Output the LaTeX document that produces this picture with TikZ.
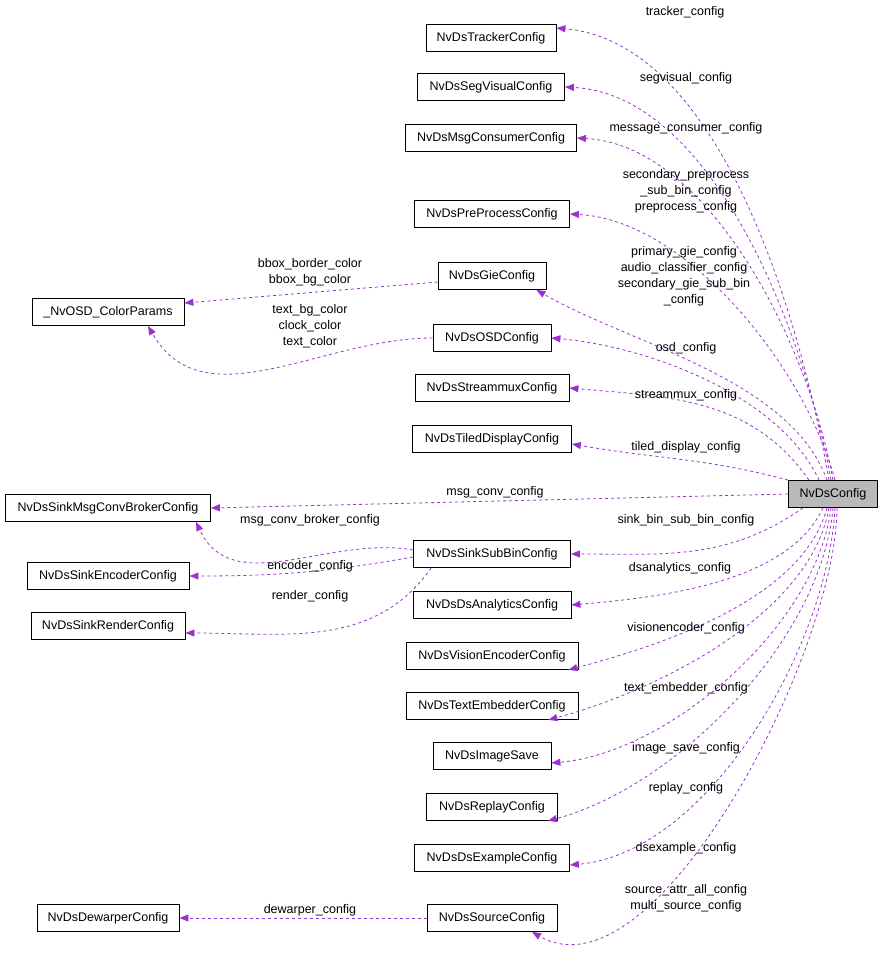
\documentclass[tikz,border=0pt]{standalone}
\usepackage{fontspec}
\setmainfont{Liberation Sans}
\usetikzlibrary{arrows.meta}
\definecolor{depcol}{HTML}{9A32CD}
\begin{document}
\begin{tikzpicture}[x=1pt,y=1pt,
                    font=\fontsize{12.5}{16}\selectfont,
                    ]
    \tikzstyle{cls}=[draw=black,fill=white,inner sep=0pt,minimum height=27pt,line width=0.8pt]
    \tikzstyle{main}=[cls, fill=gray!55];
    \tikzstyle{dep}=[draw=depcol,dashed,line width=0.8pt,-{Triangle[length=9pt,width=7pt]}];
    \tikzstyle{lbl}=[align=center,inner sep=0pt];

    \useasboundingbox (0,0) rectangle (883,-964);

    % classes
    \node[main, minimum width=89pt] (cfg) at (833,-494) {NvDsConfig};
    \node[cls, minimum width=130pt] (trk) at (491,-38) {NvDsTrackerConfig};
    \node[cls, minimum width=147pt] (seg) at (491,-87) {NvDsSegVisualConfig};
    \node[cls, minimum width=171pt] (msgc) at (491,-138) {NvDsMsgConsumerConfig};
    \node[cls, minimum width=155pt] (pre) at (492,-214) {NvDsPreProcessConfig};
    \node[cls, minimum width=108pt] (gie) at (492,-276) {NvDsGieConfig};
    \node[cls, minimum width=152pt] (col) at (108,-312) {\_NvOSD\_ColorParams};
    \node[cls, minimum width=118pt] (osd) at (492,-338) {NvDsOSDConfig};
    \node[cls, minimum width=154pt] (mux) at (492,-388) {NvDsStreammuxConfig};
    \node[cls, minimum width=159pt] (tile) at (492,-439) {NvDsTiledDisplayConfig};
    \node[cls, minimum width=205pt] (smsg) at (108,-508) {NvDsSinkMsgConvBrokerConfig};
    \node[cls, minimum width=157pt] (sink) at (492,-554) {NvDsSinkSubBinConfig};
    \node[cls, minimum width=162pt] (enc) at (108,-576) {NvDsSinkEncoderConfig};
    \node[cls, minimum width=154pt] (ren) at (108,-626) {NvDsSinkRenderConfig};
    \node[cls, minimum width=158pt] (ana) at (492,-605) {NvDsDsAnalyticsConfig};
    \node[cls, minimum width=172pt] (vis) at (492,-656) {NvDsVisionEncoderConfig};
    \node[cls, minimum width=172pt] (txt) at (492,-706) {NvDsTextEmbedderConfig};
    \node[cls, minimum width=118pt] (img) at (492,-756) {NvDsImageSave};
    \node[cls, minimum width=131pt] (rep) at (492,-807) {NvDsReplayConfig};
    \node[cls, minimum width=155pt] (exa) at (492,-858) {NvDsDsExampleConfig};
    \node[cls, minimum width=142pt] (dew) at (108,-918) {NvDsDewarperConfig};
    \node[cls, minimum width=130pt] (src) at (492,-918) {NvDsSourceConfig};

    % upper members
    \draw[dep] ([xshift=-4]cfg.north) to[out=100,in=-5,looseness=0.8] ([yshift=10]trk.east);
    \draw[dep] ([xshift=-2]cfg.north) to[out=100,in=-3,looseness=0.8] (seg.east);
    \draw[dep] ([xshift=0]cfg.north) to[out=100,in=-3,looseness=0.8] (msgc.east);
    \draw[dep] ([xshift=2]cfg.north) to[out=105,in=-3,looseness=0.8] (pre.east);
    \draw[dep] ([xshift=-6]cfg.north) to[out=110,in=-30,looseness=0.8] ([xshift=-10]gie.south east);
    \draw[dep] ([xshift=-14]cfg.north) to[out=115,in=-5,looseness=0.8] (osd.east);
    \draw[dep] ([xshift=-24]cfg.north) to[out=125,in=-5] (mux.east);
    \draw[dep] (cfg.north west) to[out=165,in=-10] ([yshift=-5]tile.east);
    \draw[dep] (cfg.west) -- (smsg.east);

    % lower members
    \draw[dep] ([xshift=-30]cfg.south) to[out=-145,in=0] (sink.east);
    \draw[dep] ([xshift=-10]cfg.south) to[out=-115,in=5,looseness=0.8] (ana.east);
    \draw[dep] ([xshift=-6]cfg.south) to[out=-105,in=15,looseness=0.8] ([xshift=-10]vis.south east);
    \draw[dep] ([xshift=-4]cfg.south) to[out=-100,in=15,looseness=0.8] ([xshift=-30]txt.south east);
    \draw[dep] ([xshift=-2]cfg.south) to[out=-97,in=5,looseness=0.8] ([yshift=-7]img.east);
    \draw[dep] ([xshift=0]cfg.south) to[out=-95,in=15,looseness=0.8] ([xshift=-10]rep.south east);
    \draw[dep] ([xshift=2]cfg.south) to[out=-93,in=5,looseness=0.8] ([yshift=-7]exa.east);
    \draw[dep] ([xshift=4]cfg.south) to[out=-90,in=-30,looseness=0.7] ([xshift=40]src.south);

    % left members
    \draw[dep] ([yshift=-6]gie.west) -- ([yshift=9]col.east);
    \draw[dep] (osd.west) to[out=180,in=-60] ([xshift=40]col.south);
    \draw[dep] ([yshift=4]sink.west) to[out=170,in=-65] ([xshift=88]smsg.south);
    \draw[dep] ([yshift=-3]sink.west) to[out=190,in=0] (enc.east);
    \draw[dep] ([xshift=18]sink.south west) to[out=-125,in=0] ([yshift=-7]ren.east);
    \draw[dep] (src.west) -- (dew.east);

    % labels
    \node[lbl] (l1) at (685,-12) {tracker\_config};
    \node[lbl] (l2) at (686,-78) {segvisual\_config};
    \node[lbl] (l3) at (686,-128) {message\_consumer\_config};
    \node[lbl] (l4) at (686,-191) {secondary\_preprocess\\\_sub\_bin\_config\\preprocess\_config};
    \node[lbl] (l5) at (684,-276) {primary\_gie\_config\\audio\_classifier\_config\\secondary\_gie\_sub\_bin\\\_config};
    \node[lbl] (l6) at (686,-348) {osd\_config};
    \node[lbl] (l7) at (686,-395) {streammux\_config};
    \node[lbl] (l8) at (686,-447) {tiled\_display\_config};
    \node[lbl] (l9) at (495,-492) {msg\_conv\_config};
    \node[lbl] (l10) at (686,-520) {sink\_bin\_sub\_bin\_config};
    \node[lbl] (l11) at (680,-568) {dsanalytics\_config};
    \node[lbl] (l12) at (686,-628) {visionencoder\_config};
    \node[lbl] (l13) at (686,-688) {text\_embedder\_config};
    \node[lbl] (l14) at (686,-748) {image\_save\_config};
    \node[lbl] (l15) at (686,-788) {replay\_config};
    \node[lbl] (l16) at (686,-848) {dsexample\_config};
    \node[lbl] (l17) at (686,-898) {source\_attr\_all\_config\\multi\_source\_config};
    \node[lbl] (l18) at (310,-272) {bbox\_border\_color\\bbox\_bg\_color};
    \node[lbl] (l19) at (310,-326) {text\_bg\_color\\clock\_color\\text\_color};
    \node[lbl] (l20) at (310,-520) {msg\_conv\_broker\_config};
    \node[lbl] (l21) at (310,-566) {encoder\_config};
    \node[lbl] (l22) at (310,-596) {render\_config};
    \node[lbl] (l23) at (310,-910) {dewarper\_config};
\end{tikzpicture}
\end{document}
